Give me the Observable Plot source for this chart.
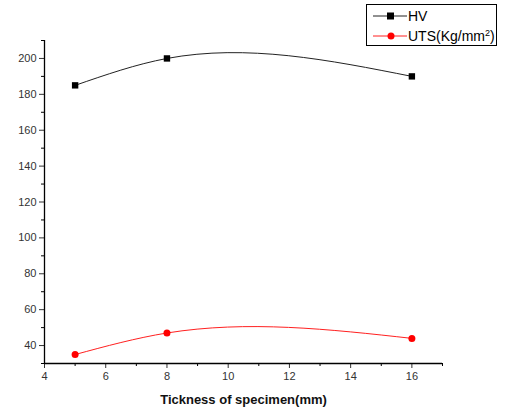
<!DOCTYPE html>
<html><head><meta charset="utf-8">
<script src="https://cdn.jsdelivr.net/npm/d3@7"></script>
<script src="https://cdn.jsdelivr.net/npm/@observablehq/plot@0.6"></script>
<style>
body{margin:0;background:#fff;}
#wrap{position:relative;width:505px;height:410px;font-family:"Liberation Sans",Arial,sans-serif;}
#legend{position:absolute;left:366px;top:4px;width:131px;height:42px;border:1px solid #000;background:#fff;box-sizing:border-box;}
</style></head>
<body><div id="wrap"><div id="chart"></div><div id="legend"></div></div>
<script>
const thickness = [5, 8, 16];
const hv = [185, 200, 190];
const uts = [35, 47, 44];
const seriesNames = ["HV", "UTS(Kg/mm²)"];
const xMajor = [4, 6, 8, 10, 12, 14, 16];
const xMinor = [5, 7, 9, 11, 13, 15, 17];
const yMajor = [40, 60, 80, 100, 120, 140, 160, 180, 200];
const yMinor = [30, 50, 70, 90, 110, 130, 150, 170, 190, 210];

const hvData = thickness.map((t, i) => ({x: t, y: hv[i]}));
const utsData = thickness.map((t, i) => ({x: t, y: uts[i]}));

// Parametric natural cubic spline with chord-length parameterisation (Origin-like "Spline"
// connector), drawn as cubic Bézier segments through the projected data points.
function curveChordSpline(context) {
  let pts = [];
  return {
    areaStart() {}, areaEnd() {},
    lineStart() { pts = []; },
    point(x, y) { pts.push([+x, +y]); },
    lineEnd() {
      const n = pts.length;
      if (n === 0) return;
      context.moveTo(pts[0][0], pts[0][1]);
      if (n < 3) { for (let i = 1; i < n; i++) context.lineTo(pts[i][0], pts[i][1]); return; }
      const h = [];
      for (let i = 0; i < n - 1; i++) h.push(Math.hypot(pts[i + 1][0] - pts[i][0], pts[i + 1][1] - pts[i][1]) || 1e-6);
      const solve = k => {
        const v = pts.map(p => p[k]);
        const s = h.map((hi, i) => (v[i + 1] - v[i]) / hi);
        // tridiagonal system for interior second derivatives, natural ends
        const m = n - 2, a = [], b = [], c = [], r = [];
        for (let i = 1; i <= m; i++) {
          a.push(h[i - 1]); b.push(2 * (h[i - 1] + h[i])); c.push(h[i]); r.push(6 * (s[i] - s[i - 1]));
        }
        for (let i = 1; i < m; i++) { const w = a[i] / b[i - 1]; b[i] -= w * c[i - 1]; r[i] -= w * r[i - 1]; }
        const M = new Array(n).fill(0);
        for (let i = m - 1; i >= 0; i--) M[i + 1] = (r[i] - (i < m - 1 ? c[i] * M[i + 2] : 0)) / b[i];
        const d0 = [], d1 = [];
        for (let i = 0; i < n - 1; i++) {
          d0.push(s[i] - h[i] * (2 * M[i] + M[i + 1]) / 6);
          d1.push(s[i] + h[i] * (M[i] + 2 * M[i + 1]) / 6);
        }
        return [d0, d1];
      };
      const [dx0, dx1] = solve(0), [dy0, dy1] = solve(1);
      for (let i = 0; i < n - 1; i++) {
        const k = h[i] / 3, [xa, ya] = pts[i], [xb, yb] = pts[i + 1];
        context.bezierCurveTo(xa + dx0[i] * k, ya + dy0[i] * k, xb - dx1[i] * k, yb - dy1[i] * k, xb, yb);
      }
    }
  };
}

const chart = Plot.plot({
  width: 505, height: 410,
  marginLeft: 44, marginRight: 63, marginTop: 40, marginBottom: 47,
  style: {fontFamily: '"Liberation Sans", Arial, sans-serif', background: "#fff"},
  x: {domain: [4, 17]},
  y: {domain: [30, 210]},
  marks: [
    Plot.axisX({ticks: xMajor, tickSize: 5, tickPadding: 4, fontSize: 11, color: "#333", label: null, tickFormat: d => d}),
    Plot.axisX({ticks: xMinor, tickSize: 3, label: null, text: null}),
    Plot.axisY({ticks: yMajor, tickSize: 5, tickPadding: 3, fontSize: 11, color: "#333", label: null}),
    Plot.axisY({ticks: yMinor, tickSize: 3, label: null, text: null}),
    Plot.ruleY([30], {stroke: "#000", strokeWidth: 1.3}),
    Plot.ruleX([4], {stroke: "#000", strokeWidth: 1.3}),
    Plot.line(hvData, {x: "x", y: "y", curve: curveChordSpline, stroke: "#222", strokeWidth: 1}),
    Plot.dot(hvData, {x: "x", y: "y", symbol: "square", r: 3.6, fill: "#000", stroke: "none"}),
    Plot.line(utsData, {x: "x", y: "y", curve: curveChordSpline, stroke: "#ff2020", strokeWidth: 1}),
    Plot.dot(utsData, {x: "x", y: "y", symbol: "circle", r: 3.5, fill: "#ff0000", stroke: "none"}),
    Plot.text(["Tickness of specimen(mm)"], {frameAnchor: "bottom", dy: 40, fontSize: 13, fontWeight: "bold", fill: "#111", text: d => d})
  ]
});
document.getElementById("chart").appendChild(chart);

const lg = d3.select("#legend").append("svg").attr("width", 131).attr("height", 42)
  .style("font-family", '"Liberation Sans", Arial, sans-serif');
const items = [{name: seriesNames[0], color: "#000", sym: "square"}, {name: seriesNames[1], color: "#ff0000", sym: "circle"}];
items.forEach((it, i) => {
  const cy = 11 + i * 20;
  lg.append("line").attr("x1", 6).attr("x2", 40).attr("y1", cy).attr("y2", cy).attr("stroke", it.color === "#000" ? "#222" : "#ff2020");
  if (it.sym === "square") lg.append("rect").attr("x", 20).attr("y", cy - 3.5).attr("width", 7).attr("height", 7).attr("fill", "#000");
  else lg.append("circle").attr("cx", 24).attr("cy", cy).attr("r", 3.5).attr("fill", "#ff0000");
  const t = lg.append("text").attr("x", 41).attr("y", cy + 5).attr("font-size", 14).attr("fill", "#000");
  if (i === 0) t.text(it.name);
  else { t.append("tspan").text("UTS(Kg/mm"); t.append("tspan").attr("font-size", 9).attr("dy", -5).text("2"); t.append("tspan").attr("dy", 5).text(")"); }
});
</script></body></html>
